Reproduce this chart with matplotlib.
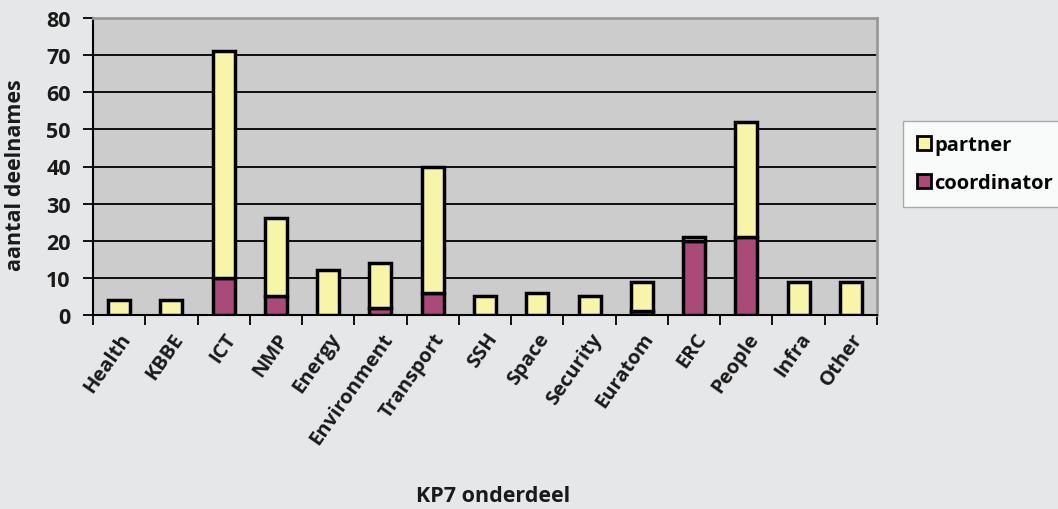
import numpy as np
import matplotlib.pyplot as plt

# KP7 deelnames per onderdeel
categories = ['Health', 'KBBE', 'ICT', 'NMP', 'Energy', 'Environment', 'Transport',
              'SSH', 'Space', 'Security', 'Euratom', 'ERC', 'People', 'Infra', 'Other']
coordinator = [0, 0, 10, 5, 0, 2, 6, 0, 0, 0, 1, 20, 21, 0, 0]
partner = [4, 4, 61, 21, 12, 12, 34, 5, 6, 5, 8, 1, 31, 9, 9]
yticks = [0, 10, 20, 30, 40, 50, 60, 70, 80]

plt.rcParams['font.family'] = ['Open Sans', 'DejaVu Sans']
plt.rcParams['font.weight'] = 'bold'

fig = plt.figure(figsize=(10.58, 5.10), dpi=100, facecolor='#e6e7e9')
ax = fig.add_axes([93 / 1058, 1 - 316 / 510, (877 - 93) / 1058, (316 - 19) / 510])
ax.set_facecolor('#cccccc')

x = np.arange(len(categories))
ax.bar(x, coordinator, width=0.42, color='#a94a78', edgecolor='black', linewidth=2.5,
       label='coordinator', zorder=3)
ax.bar(x, partner, width=0.42, bottom=coordinator, color='#f8f5a8', edgecolor='black',
       linewidth=2.5, label='partner', zorder=3)

ax.set_xlim(-0.5, len(categories) - 0.5)
ax.set_ylim(0, 80)
ax.set_yticks(yticks)
ax.yaxis.grid(True, color='black', linewidth=1.3, zorder=1)
ax.set_axisbelow(True)

ax.set_xticks(np.arange(len(categories) + 1) - 0.5, minor=False)
ax.set_xticklabels([])
ax.set_xticks(x, minor=True)
ax.set_xticklabels(categories, minor=True, rotation=55, ha='right', rotation_mode='anchor',
                   fontsize=14.5, fontweight='bold', color='#1a1a1a')
ax.tick_params(axis='x', which='minor', length=0, pad=10)
ax.tick_params(axis='x', which='major', length=7, width=1.3, direction='out')
ax.tick_params(axis='y', length=7, width=1.3, pad=9, labelsize=15.5, labelcolor='#1a1a1a')
for lab in ax.get_yticklabels():
    lab.set_fontweight('bold')

ax.spines['left'].set_linewidth(1.5)
ax.spines['bottom'].set_linewidth(1.5)
ax.spines['top'].set_color('#999999')
ax.spines['right'].set_color('#999999')
ax.spines['top'].set_linewidth(2)
ax.spines['right'].set_linewidth(2)

ax.set_ylabel('aantal deelnames', fontsize=15.5, fontweight='bold', color='#1a1a1a')
ax.yaxis.set_label_coords(-0.085, 0.475)
fig.text(493 / 1058, 1 - 497 / 510, 'KP7 onderdeel', ha='center', va='center',
         fontsize=15.5, fontweight='bold', color='#1a1a1a')

handles, labels = ax.get_legend_handles_labels()
leg = fig.legend(handles[::-1], labels[::-1], loc='upper left',
                 bbox_to_anchor=(903 / 1058, 1 - 122 / 510), frameon=True, fancybox=False,
                 fontsize=14.5, handlelength=0.7, handleheight=0.7, handletextpad=0.15,
                 labelspacing=0.9, borderpad=0.7, borderaxespad=0)
leg.get_frame().set_edgecolor('#999999')
leg.get_frame().set_facecolor('white')
for h in leg.legend_handles:
    h.set_linewidth(2)

fig.savefig('out.png', dpi=100, facecolor=fig.get_facecolor())
